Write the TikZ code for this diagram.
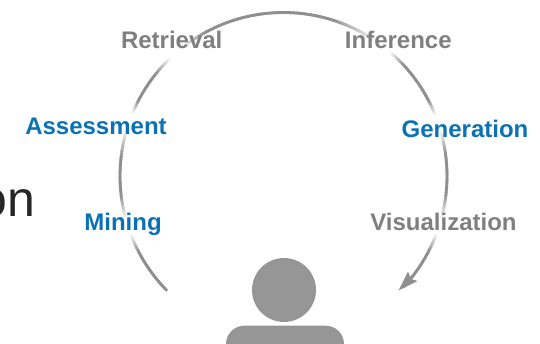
\documentclass[tikz,border=0pt]{standalone}
\usepackage{fontspec}
\setmainfont{Liberation Sans}
\definecolor{ringgray}{HTML}{8F8F8F}
\definecolor{persongray}{HTML}{969696}
\definecolor{labelgray}{HTML}{7F7F7F}
\definecolor{labelblue}{HTML}{0A72B4}
\definecolor{titleink}{HTML}{262626}
\tikzset{
  steplabel/.style={font=\fontsize{24}{26}\selectfont\bfseries, anchor=base, inner sep=0pt},
  graylabel/.style={steplabel, text=labelgray},
  bluelabel/.style={steplabel, text=labelblue},
  persongeo/.style={fill=persongray, draw=none},
  arrowhead/.style={fill=ringgray, draw=none},
}
\pgfmathdeclarefunction{gapfade}{4}{%
  \begingroup
  \pgfmathsetmacro\gfd{#1-#2}%
  \pgfmathparse{max(0,min(1,\gfd<0 ? ((-\gfd)-2.5)/#3 : (\gfd-2.5)/#4))}%
  \pgfmathsmuggle\pgfmathresult
  \endgroup}
\begin{document}
\begin{tikzpicture}[x=1pt,y=-1pt]
\useasboundingbox (0,0) rectangle (540,344);
\foreach \a in {224,223,...,-42}{
  \pgfmathsetmacro\ff{min(min(min(gapfade(\a,131,10,8),gapfade(\a,52,7,18)),min(gapfade(\a,160,5,11),gapfade(\a,19,9,6))),min(gapfade(\a,198,9,7),gapfade(\a,-18,7,9)))}
  \pgfmathsetmacro\mixv{100*\ff}
  \draw[color=ringgray!\mixv!white, line width=2.8pt]
    ({283.5+163.5*cos(\a+0.6)},{176-163.5*sin(\a+0.6)}) -- ({283.5+163.5*cos(\a-1)},{176-163.5*sin(\a-1)});
}
\coordinate (tip) at (398.5,290.5);
\coordinate (barbA) at (408,271.5);
\coordinate (barbB) at (417.5,281);
\coordinate (notch) at (411,279);
\fill[arrowhead] (tip) -- (barbA) -- (notch) -- (barbB) -- cycle;
\fill[persongeo] (284,290) circle (32);
\fill[persongeo, rounded corners=18.3pt] (226,370) -- (226,325.7) -- (344,325.7) -- (344,370) -- cycle;
\node[graylabel] (retrieval) at (171.7,48.7) {Retrieval};
\node[graylabel] (inference) at (398.3,48.7) {Inference};
\node[bluelabel] (assessment) at (96,134.7) {Assessment};
\node[bluelabel] (generation) at (465,137.2) {Generation};
\node[bluelabel] (mining) at (123,230.7) {Mining};
\node[graylabel] (visualization) at (443.5,230.7) {Visualization};
\node[font=\fontsize{50}{56}\selectfont, text=titleink, anchor=base east, inner sep=0pt] (title) at (35.5,217) {on};
\end{tikzpicture}
\end{document}
